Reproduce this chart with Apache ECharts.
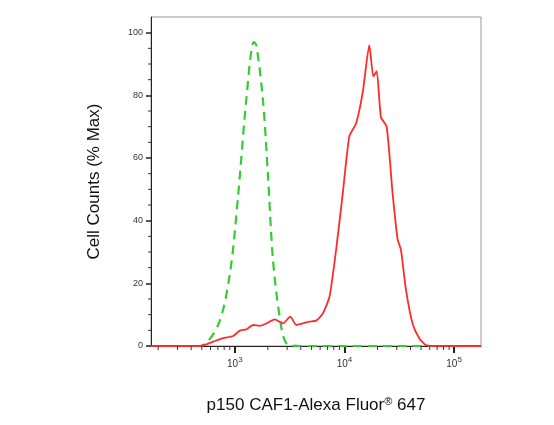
<!DOCTYPE html>
<html><head><meta charset="utf-8">
<script src="https://cdn.jsdelivr.net/npm/echarts@6/dist/echarts.min.js"></script>
<style>html,body{margin:0;padding:0;background:#fff}#c{width:554px;height:425px}</style>
</head><body><div id="c"></div>
<script>
// Fluorescence intensity (log10 exponent) and % Max
const isoLog = [2.236,2.5,2.682,2.848,2.955,3.030,3.106,3.173,3.197,3.258,3.303,3.348,3.409,3.470,3.6,4.0,4.5,5.0,5.245];
const isoVal = [0,0,0,6.7,23,48,79,97,96,78,54,27.5,9.4,0.9,0,0,0,0,0];
const sampleLog = [2.236,2.5,2.682,2.803,2.894,2.985,3.045,3.106,3.167,3.227,3.288,3.364,3.439,3.506,3.561,3.621,3.682,3.742,3.803,3.864,3.924,3.985,4.045,4.106,4.167,4.227,4.264,4.294,4.333,4.385,4.439,4.485,4.515,4.561,4.621,4.682,4.742,4.803,4.9,5.245];
const sampleVal = [0,0,0,1.4,2.5,3.2,4.9,5.3,6.7,6.4,7.2,8.5,7.2,9.4,6.7,7.2,7.8,8.1,10.4,15.8,30.7,48.8,67,71,81,96,86,87.7,73,70,48.8,34,30.7,18,7.2,2.5,0.3,0,0,0];
const majorTicks = [1e3,1e4,1e5];
const minorTicks = [200,300,400,500,600,700,800,900,2000,3000,4000,5000,6000,7000,8000,9000,20000,30000,40000,50000,60000,70000,80000,90000];
const yTicks = [0,20,40,60,80,100];
const yMinor = [5,10,15,25,30,35,45,50,55,65,70,75,85,90,95];

const toPts = (L,V)=>L.map((l,i)=>[Math.pow(10,l),V[i]]);
const chart = echarts.init(document.getElementById('c'));
const tickSeries = (vals, isX) => ({
  type:'custom', silent:true, z:5, clip:false,
  data: vals.map(v => isX ? [v,0] : [172,v]),
  renderItem:(params, api)=>{
    const p = api.coord([api.value(0), api.value(1)]);
    const shape = isX ? {x1:p[0],y1:p[1],x2:p[0],y2:p[1]+4} : {x1:p[0],y1:p[1],x2:p[0]-3,y2:p[1]};
    return {type:'line', shape, style:{stroke:'#333', lineWidth:1}};
  }
});
chart.setOption({
  animation:false,
  grid:{left:151,top:17,right:73,bottom:79,show:true,borderColor:'#999',borderWidth:1},
  xAxis:{type:'log',min:172,max:176000,splitLine:{show:false},
    axisLine:{lineStyle:{color:'#222',width:1}},
    axisTick:{customValues:majorTicks,length:7,lineStyle:{color:'#222',width:2}},
    axisLabel:{customValues:majorTicks,margin:10,
      formatter:v=>'{b|10}{s|'+Math.round(Math.log10(v))+'}',
      rich:{b:{fontSize:10,color:'#333',fontFamily:'Arial'},s:{fontSize:8,color:'#333',verticalAlign:'top',padding:[0,0,9,0],fontFamily:'Arial'}}},
    name:'{t|p150 CAF1-Alexa Fluor}{r|®}{t| 647}',nameLocation:'middle',nameGap:50,
    nameTextStyle:{rich:{t:{fontSize:17,color:'#111',fontFamily:'Arial'},r:{fontSize:11,color:'#111',verticalAlign:'top',padding:[0,0,8,0],fontFamily:'Arial'}}}},
  yAxis:{type:'value',min:0,max:105,interval:20,
    axisLine:{show:true,lineStyle:{color:'#222'}},
    axisTick:{customValues:yTicks,length:5,lineStyle:{color:'#222',width:1.5}},
    splitLine:{show:false},
    axisLabel:{customValues:yTicks,fontSize:9,color:'#333',fontFamily:'Arial',margin:8},
    name:'Cell Counts (% Max)',nameLocation:'middle',nameGap:48,
    nameTextStyle:{fontSize:17,color:'#111',fontFamily:'Arial'}},
  series:[
    {type:'line',data:toPts(isoLog,isoVal),showSymbol:false,smooth:0.3,
     lineStyle:{color:'#33cc33',width:2.2,type:[9,6]}},
    {type:'line',data:toPts(sampleLog,sampleVal),showSymbol:false,smooth:0.2,
     lineStyle:{color:'#ff2a2a',width:1.8}},
    tickSeries(minorTicks,true),
    tickSeries(yMinor,false)
  ]
});
</script></body></html>
